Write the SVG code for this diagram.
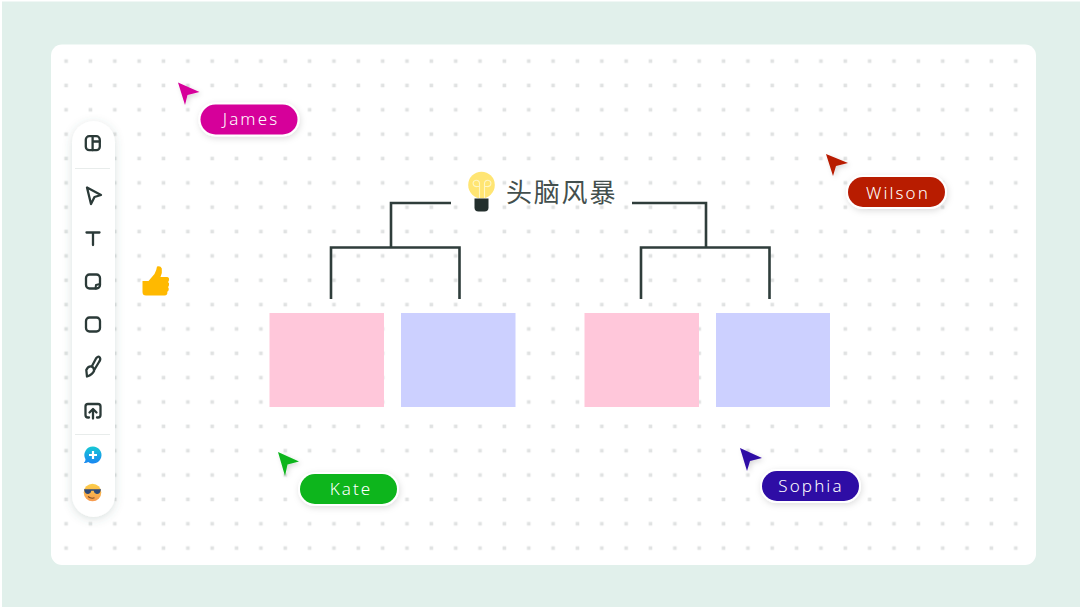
<svg xmlns="http://www.w3.org/2000/svg" width="1080" height="607" viewBox="0 0 1080 607">
<style>
.ic{fill:none;stroke:#2b3a38;stroke-width:2.3;stroke-linecap:round;stroke-linejoin:round}
.conn{fill:none;stroke:#2f3d3b;stroke-width:2.6}
.lab{font-family:"Noto Sans","Open Sans",sans-serif;font-size:17px;font-weight:350;letter-spacing:2.100px;fill:#fff;text-anchor:middle}
.pill{stroke:#fff;stroke-width:4;paint-order:stroke;filter:url(#sh)}
.arr{filter:url(#sh2)}
.sep{stroke:#e8eceb;stroke-width:1}
</style>
<defs>
<pattern id="dots" x="54" y="49" width="24.35" height="24.35" patternUnits="userSpaceOnUse"><rect x="10.300" y="10.300" width="3.600" height="3.600" fill="#e0e2e2"/></pattern>
<filter id="sh" x="-20%" y="-50%" width="140%" height="200%"><feDropShadow dx="1" dy="2" stdDeviation="3" flood-color="#000" flood-opacity=".13"/></filter>
<filter id="sh2" x="-50%" y="-50%" width="200%" height="200%"><feDropShadow dx="2" dy="2" stdDeviation="2.500" flood-color="#000" flood-opacity=".15"/></filter>
<filter id="sh3" x="-50%" y="-20%" width="200%" height="140%"><feDropShadow dx="0" dy="2" stdDeviation="5" flood-color="#4a6660" flood-opacity=".2"/></filter>
<linearGradient id="blue" x1="0" y1="0" x2="0" y2="1"><stop offset="0" stop-color="#16c8d4"/><stop offset="1" stop-color="#1a86f2"/></linearGradient>
<linearGradient id="face" x1="0" y1="0" x2="0" y2="1"><stop offset="0" stop-color="#fdd04a"/><stop offset="1" stop-color="#f79a50"/></linearGradient>
</defs>
<rect x="0" y="0" width="1080" height="607" fill="#fff"/>
<rect x="2" y="1.500" width="1078" height="605.500" fill="#e1f0eb"/>
<rect id="board" x="51" y="44.500" width="985" height="520.500" rx="11" fill="#fff"/>
<rect x="54" y="49" width="978" height="512" fill="url(#dots)"/>

<g id="toolbar">
<rect x="72" y="121" width="43" height="396" rx="21.500" fill="#fff" filter="url(#sh3)"/>
<line class="sep" x1="75" y1="168.500" x2="110" y2="168.500"/>
<line class="sep" x1="75" y1="434.500" x2="110" y2="434.500"/>
<g class="ic">
<rect x="85.800" y="136.200" width="14" height="14" rx="3.500"/><path d="M92.600 136.200V150.200M92.600 141.500H99.800"/>
<path d="M87 187.500L101 195L94.500 197L91 204Z"/>
<path d="M86.500 232.500H99.500M93 232.500V245"/>
<rect x="86" y="274.500" width="14" height="14" rx="3.500"/><path d="M95.500 288.500L96 285L100 284" stroke-width="2"/>
<rect x="86" y="317.500" width="14" height="14" rx="3.500"/>
<path d="M87 376.500L86.300 370Q88 366 91.500 366.500Q94.500 367.500 94 371Q92.500 374.500 87 376.500Z"/><path d="M92 366L96 358.500Q98 355.500 99.800 357.500Q101 359.500 99 362L94.500 369.500"/>
<path d="M89 417.500H88Q85.500 417.500 85.500 415V406.500Q85.500 404 88 404H98Q100.500 404 100.500 406.500V415Q100.500 417.500 98 417.500H97"/><path d="M93 418.500V409.500M89.500 412.500L93 409L96.500 412.500"/>
</g>
<path d="M93 446.500a8.500 8.500 0 1 1-4.800 15.500q-2.500 1.500-4.300.8q1.700-1.500 1.600-3.600a8.500 8.500 0 0 1 7.500-12.700z" fill="url(#blue)"/>
<path d="M89 455h8M93 451v8" stroke="#fff" stroke-width="2.200" stroke-linecap="butt"/>
<circle cx="92.500" cy="492.500" r="8.800" fill="url(#face)"/>
<path d="M84 489.300h17l-.8 2.800q-1 2.200-3.500 1.900q-2.700-.5-3-3.300h-2.400q-.3 2.800-3 3.300q-2.500.3-3.500-1.900z" fill="#2f4a78"/>
<path d="M88 496.500q3 2.500 6.500 1.300" fill="none" stroke="#7a4a22" stroke-width="1.100"/>
</g>

<g id="thumb">
<path d="M142.500 281H148.500L154.500 274Q156.500 270.500 157 266.500Q160.500 265.200 161.800 268.500Q162.500 272.500 160.500 277H167Q169.500 277.300 169 280Q168.800 281.500 168 282Q169.500 283.200 169 285Q168.800 286.500 168 287Q169 288.200 168.700 290Q168.300 291.300 167.300 291.700Q167.800 295.500 164.500 295.500H146Q142.500 295.500 142.500 292Z" fill="#ffb900" stroke="#fff" stroke-width="4" paint-order="stroke" stroke-linejoin="round"/>
</g>

<g id="title">
<circle cx="481.500" cy="185" r="13.300" fill="#ffe573"/>
<path d="M479.500 198v-11.500h-2.500a3.200 3.200 0 1 1 2.500-3.200v3.200M484.500 198v-11.500h2.500a3.200 3.200 0 1 0-2.500-3.200v3.200" fill="none" stroke="#fff6c4" stroke-width="1.100"/>
<path d="M474.500 198.500h14v9q0 4-4 4h-6q-4 0-4-4z" fill="#232f2d"/>
<text x="506" y="202" font-family="'Noto Sans CJK SC','Noto Sans',sans-serif" font-size="26" font-weight="400" letter-spacing="1.800" fill="#434f4d">头脑风暴</text>
</g>

<g id="connectors">
<path class="conn" d="M451 203H391V247M331 299V247.500H459.500V299"/>
<path class="conn" d="M632 203H706V247M641 299V247.500H769.500V299"/>
</g>

<g id="card-1"><rect x="269.500" y="313" width="114.500" height="94" fill="#ffc7da"/></g>
<g id="card-2"><rect x="401" y="313" width="114.500" height="94" fill="#ccd0ff"/></g>
<g id="card-3"><rect x="584.500" y="313" width="114.500" height="94" fill="#ffc7da"/></g>
<g id="card-4"><rect x="716" y="313" width="114" height="94" fill="#ccd0ff"/></g>

<g id="james">
<path class="arr" d="M178 82.500L199.500 92L187.500 95L185 105Z" fill="#d6009a"/>
<rect class="pill" x="200.500" y="104.500" width="97" height="30" rx="15" fill="#d6009a"/>
<text class="lab" x="251" y="125">James</text>
</g>
<g id="wilson">
<path class="arr" d="M826 154L848 163L836 166L833 176Z" fill="#b81a06"/>
<rect class="pill" x="848" y="177" width="97" height="30" rx="15" fill="#b81a06"/>
<text class="lab" x="898" y="199">Wilson</text>
</g>
<g id="kate">
<path class="arr" d="M278 452L299 461.500L287.500 464.500L285 476Z" fill="#0bb51b"/>
<rect class="pill" x="300" y="474" width="97" height="30" rx="15" fill="#0bb51b"/>
<text class="lab" x="351" y="495">Kate</text>
</g>
<g id="sophia">
<path class="arr" d="M740 448L762 458L750 461L747 471Z" fill="#2e0aa5"/>
<rect class="pill" x="762" y="471" width="97" height="30" rx="15" fill="#2e0aa5"/>
<text class="lab" x="811" y="492">Sophia</text>
</g>
</svg>
